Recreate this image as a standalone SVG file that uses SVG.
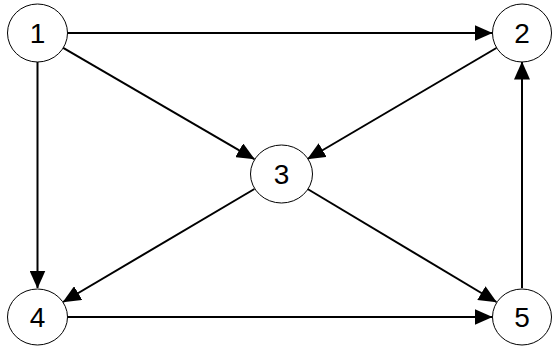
<svg xmlns="http://www.w3.org/2000/svg" width="552" height="346" viewBox="0 0 552 346">
<style>
.node ellipse{fill:#fff;stroke:#000;stroke-width:1}
.node text{font-family:"Liberation Sans",Arial,sans-serif;font-size:28px;text-anchor:middle;fill:#000}
.edge{stroke:#000;stroke-width:2;fill:none;marker-end:url(#ah)}
</style>
<defs>
<marker id="ah" markerUnits="userSpaceOnUse" markerWidth="18" markerHeight="16" refX="17.5" refY="8" orient="auto" viewBox="0 0 18 16">
<path d="M0,0 L18,8 L0,16 Z" fill="#000"/>
</marker>
</defs>
<rect width="552" height="346" fill="#fff"/>
<g id="connectors">
<line class="edge" x1="67.5" y1="33" x2="492" y2="33"/>
<line class="edge" x1="37.5" y1="62" x2="37.5" y2="288"/>
<line class="edge" x1="522" y1="288" x2="522" y2="62"/>
<line class="edge" x1="67.5" y1="317" x2="492" y2="317"/>
<line class="edge" x1="63.2" y1="47.9" x2="254.3" y2="159.1"/>
<line class="edge" x1="496.4" y1="48" x2="307.6" y2="159"/>
<line class="edge" x1="254.4" y1="189" x2="63.1" y2="302"/>
<line class="edge" x1="307.6" y1="189" x2="496.4" y2="302"/>
</g>
<g id="node1" class="node"><ellipse cx="37.5" cy="33" rx="30" ry="29"/><text x="37.5" y="43">1</text></g>
<g id="node2" class="node"><ellipse cx="522" cy="33" rx="29.5" ry="29"/><text x="522" y="43">2</text></g>
<g id="node3" class="node"><ellipse cx="281.5" cy="174" rx="31" ry="29"/><text x="281.5" y="184">3</text></g>
<g id="node4" class="node"><ellipse cx="37.5" cy="317" rx="30" ry="28"/><text x="37.5" y="327">4</text></g>
<g id="node5" class="node"><ellipse cx="522" cy="317" rx="29.5" ry="28"/><text x="522" y="327">5</text></g>
</svg>
